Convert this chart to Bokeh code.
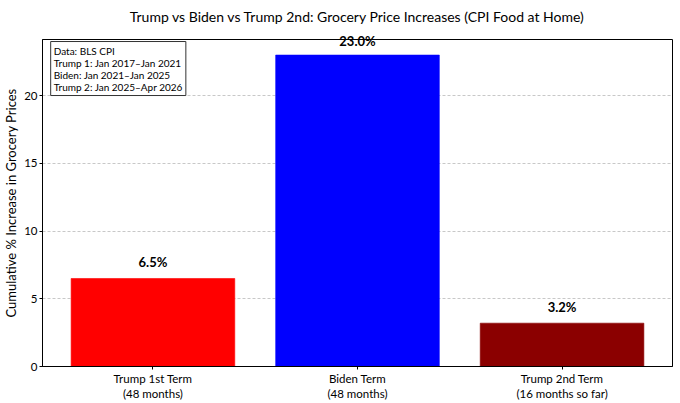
from bokeh.core.properties import value
from bokeh.embed import file_html
from bokeh.models import ColumnDataSource, FixedTicker, Label, LabelSet, LinearAxis, Range1d
from bokeh.plotting import figure
from bokeh.resources import INLINE

# values
categories = ["Trump 1st Term\n(48 months)", "Biden Term\n(48 months)", "Trump 2nd Term\n(16 months so far)"]
increases = [6.5, 23.0, 3.2]
colors = ["#ff0000", "#0000ff", "#8b0000"]
y_ticks = [0, 5, 10, 15, 20]
note = "Data: BLS CPI\nTrump 1: Jan 2017\u2013Jan 2021\nBiden: Jan 2021\u2013Jan 2025\nTrump 2: Jan 2025\u2013Apr 2026"

FONT = "Lato"
y_max = max(increases) * 1.05

xs = list(range(len(categories)))
labels = ["%.1f%%" % v for v in increases]
source = ColumnDataSource(dict(x=xs, top=increases, color=colors))

# value labels that would run past the top of the frame go on a bare axis above it,
# the rest are drawn inside the frame
over = [i for i, v in enumerate(increases) if v + 1.6 > y_max]
inside = [i for i in xs if i not in over]
label_src = ColumnDataSource(dict(
    x=[xs[i] for i in inside],
    y=[increases[i] + 0.6 for i in inside],
    text=[labels[i] for i in inside],
))

p = figure(frame_width=630, frame_height=327, output_backend="svg", toolbar_location=None,
           x_range=Range1d(-0.54, 2.54), y_range=Range1d(0, y_max),
           title="Trump vs Biden vs Trump 2nd: Grocery Price Increases (CPI Food at Home)",
           min_border_left=10, min_border_right=2, min_border_top=10, min_border_bottom=2)

p.title.align = "center"
p.title.text_font = FONT
p.title.text_font_size = "14px"
p.title.text_font_style = "normal"
p.title.text_color = "#000000"

p.vbar(x="x", top="top", width=0.8, bottom=0, fill_color="color", line_color="color",
       fill_alpha=1.0, line_alpha=0.6, source=source)

p.add_layout(LabelSet(x="x", y="y", text="text", source=label_src, text_align="center",
                      text_baseline="bottom", text_font_size="13px", text_font_style="bold",
                      text_font=value(FONT), text_color="#000000"))

top_axis = LinearAxis(ticker=FixedTicker(ticks=over),
                      major_label_overrides={i: labels[i] for i in over},
                      axis_line_color=None, major_tick_line_color=None, minor_tick_line_color=None,
                      major_tick_in=0, major_tick_out=0, major_label_standoff=-9,
                      major_label_text_font=FONT, major_label_text_font_size="13px",
                      major_label_text_font_style="bold", major_label_text_color="#000000")
p.add_layout(top_axis, "above")

p.add_layout(Label(x=-0.5, y=24.0, text=note, anchor="top_left",
                   text_font=FONT, text_font_size="10px", text_color="#000000",
                   text_line_height=1.0,
                   border_line_color="#333333", border_line_width=1,
                   background_fill_color="white", padding=3))

xaxis = p.below[0]
yaxis = p.left[0]
xaxis.ticker = FixedTicker(ticks=xs)
xaxis.major_label_overrides = {i: c for i, c in zip(xs, categories)}
yaxis.ticker = FixedTicker(ticks=y_ticks)
yaxis.axis_label = "Cumulative % Increase in Grocery Prices"

for ax in (xaxis, yaxis):
    ax.major_label_text_font = FONT
    ax.major_label_text_font_size = "11.5px"
    ax.major_label_text_color = "#000000"
    ax.major_label_standoff = 2
    ax.minor_tick_line_color = None
    ax.major_tick_in = 0
    ax.major_tick_out = 3
    ax.axis_line_color = "#000000"
    ax.major_tick_line_color = "#000000"

yaxis.axis_label_text_font = FONT
yaxis.axis_label_text_font_size = "13px"
yaxis.axis_label_text_font_style = "normal"
yaxis.axis_label_text_color = "#000000"
yaxis.axis_label_standoff = 2

p.xgrid.grid_line_color = None
p.ygrid.grid_line_color = "#b0b0b0"
p.ygrid.grid_line_dash = "3 2"
p.ygrid.grid_line_alpha = 0.7

p.outline_line_color = "#000000"
p.outline_line_alpha = 1

open("out.html", "w").write(file_html(p, INLINE))
